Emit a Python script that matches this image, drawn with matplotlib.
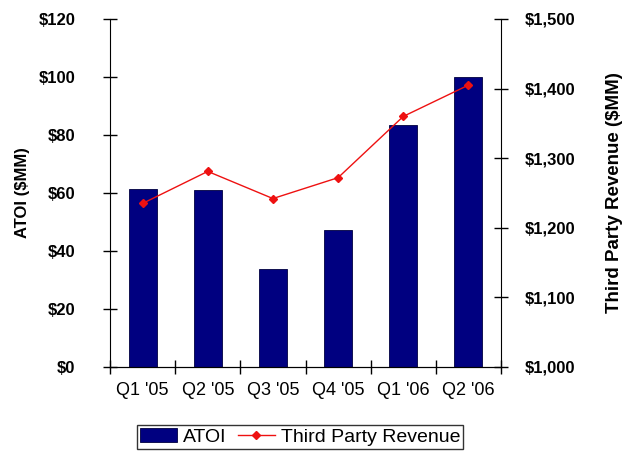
import numpy as np
import matplotlib
matplotlib.use("Agg")
import matplotlib.pyplot as plt
from matplotlib.ticker import FuncFormatter, MultipleLocator

plt.rcParams['font.family'] = ['Liberation Sans', 'DejaVu Sans']

quarters = ["Q1 '05", "Q2 '05", "Q3 '05", "Q4 '05", "Q1 '06", "Q2 '06"]
atoi = [61.5, 61, 33.7, 47.3, 83.6, 100]
revenue = [1235, 1281, 1242, 1272, 1360, 1405]

fig = plt.figure(figsize=(6.24, 4.51), dpi=100)
ax = fig.add_axes([0.1763, 0.1863, 0.6266, 0.7716])
x = np.arange(len(quarters))

bars = ax.bar(x, atoi, width=0.43, color='#000080', edgecolor='#000040',
              linewidth=0.6, label='ATOI', zorder=2)
ax.set_xlim(-0.5, len(quarters) - 0.5)
ax.set_ylim(0, 120)
ax.yaxis.set_major_locator(MultipleLocator(20))
ax.yaxis.set_major_formatter(FuncFormatter(lambda v, p: '$%d' % v))
ax.set_xticks(x)
ax.set_xticklabels(quarters, fontsize=13)
ax.set_xticks(np.arange(-0.5, len(quarters)), minor=True)
ax.tick_params(axis='x', which='major', length=0, pad=11)
ax.tick_params(axis='x', which='minor', direction='inout', length=10, width=1)
ax.tick_params(axis='y', direction='inout', length=10, width=1, pad=20)
for lbl in ax.get_yticklabels():
    lbl.set_fontweight('bold')
    lbl.set_fontsize(12)
ax.spines['top'].set_visible(False)
ax.spines['right'].set_visible(False)
ax.set_ylabel('ATOI ($MM)', fontsize=12, fontweight='bold', labelpad=6)

ax2 = ax.twinx()
line, = ax2.plot(x, revenue, color='#ee1111', linewidth=1, marker='D',
                 markersize=4, label='Third Party Revenue')
ax2.set_ylim(1000, 1500)
ax2.yaxis.set_major_locator(MultipleLocator(100))
ax2.yaxis.set_major_formatter(FuncFormatter(lambda v, p: '${:,.0f}'.format(v)))
ax2.tick_params(axis='y', direction='inout', length=10, width=1, pad=12)
for lbl in ax2.get_yticklabels():
    lbl.set_fontweight('bold')
    lbl.set_fontsize(12)
ax2.spines['top'].set_visible(False)
ax2.spines['left'].set_visible(False)
ax2.set_ylabel('Third Party Revenue ($MM)', fontsize=13.5, fontweight='bold',
               labelpad=22)

leg = fig.legend([bars, line], ['ATOI', 'Third Party Revenue'],
                 loc='lower center', bbox_to_anchor=(300 / 624, 0.005),
                 ncol=2, fontsize=14, frameon=True, fancybox=False,
                 handlelength=1.9, handletextpad=0.3, columnspacing=0.6,
                 borderpad=0.15, borderaxespad=0)
leg.get_frame().set_edgecolor('black')
leg.get_frame().set_linewidth(1)

fig.savefig('out.png', dpi=100)
